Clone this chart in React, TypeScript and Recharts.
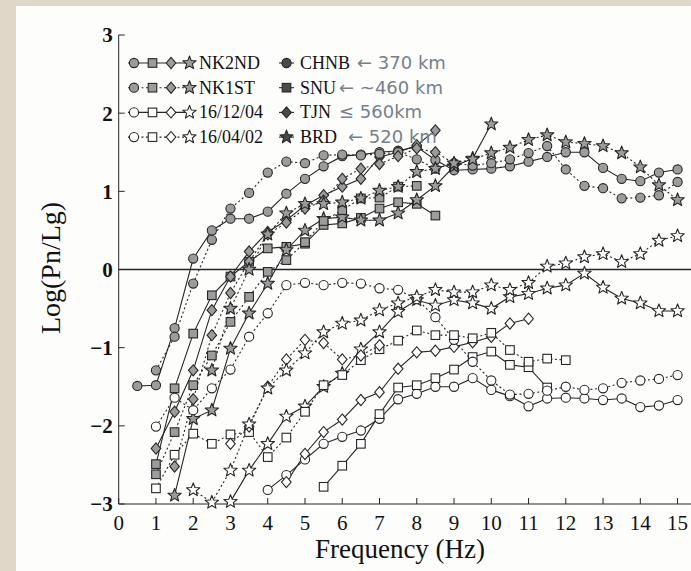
import React from "react";
import { ComposedChart, Line, XAxis, YAxis, ReferenceLine } from "recharts";

const N = null;

// sampling frequencies (Hz), shared by every series
const FREQ = [
  0.5, 1, 1.5, 2, 2.5, 3, 3.5, 4, 4.5, 5, 5.5, 6, 6.5, 7, 7.5, 8, 8.5, 9, 9.5,
  10, 10.5, 11, 11.5, 12, 12.5, 13, 13.5, 14, 14.5, 15,
];

// NK2ND (solid, filled markers)
const nk2ndChnb = [-1.49, -1.48, -0.75, 0.14, 0.5, 0.65, 0.65, 0.74, 0.97, 1.16, 1.32, 1.45, 1.47, 1.5, 1.52, 1.57, 1.4, 1.27, 1.28, 1.29, 1.32, 1.38, 1.44, 1.5, 1.5, 1.3, 1.16, 1.13, 1.24, 1.28];
const nk2ndSnu = [N, -2.49, -1.52, -0.82, -0.33, -0.09, 0.1, 0.27, 0.29, 0.33, 0.57, 0.59, 0.66, 0.78, 0.86, 0.84, 0.69, N, N, N, N, N, N, N, N, N, N, N, N, N];
const nk2ndTjn = [N, -2.29, -1.82, -1.29, -0.52, -0.09, 0.23, 0.48, 0.63, 0.82, 0.95, 1.06, 1.16, 1.44, 1.5, 1.59, 1.78, N, N, N, N, N, N, N, N, N, N, N, N, N];
const nk2ndBrd = [N, N, -2.89, -1.91, -1.8, -1.01, -0.56, -0.18, 0.25, 0.5, 0.65, 0.67, 0.63, 0.63, 0.72, 0.89, 1.07, 1.32, 1.42, 1.86, N, N, N, N, N, N, N, N, N, N];

// NK1ST (dotted, filled markers)
const nk1stChnb = [N, -1.29, -0.86, -0.18, 0.38, 0.78, 0.98, 1.24, 1.38, 1.36, 1.46, 1.47, 1.46, 1.48, 1.5, 1.41, 1.29, 1.36, 1.33, 1.36, 1.41, 1.49, 1.58, 1.28, 1.07, 1.04, 0.91, 0.92, 0.95, 1.12];
const nk1stSnu = [N, -2.62, -2.08, -1.48, -1.1, -0.67, -0.35, -0.03, 0.12, 0.35, 0.62, 0.76, 0.91, 0.92, 1.06, 1.07, N, N, N, N, N, N, N, N, N, N, N, N, N, N];
const nk1stTjn = [N, N, -2.52, -1.66, -0.84, -0.3, 0.1, 0.45, 0.6, 0.78, 0.88, 1.16, 1.29, 1.35, 1.45, 1.55, 1.5, 1.36, N, N, N, N, N, N, N, N, N, N, N, N];
const nk1stBrd = [N, N, N, N, -1.29, -0.5, 0.0, 0.45, 0.72, 0.84, 0.84, 0.86, 0.91, 1.01, 1.06, 1.25, 1.29, 1.36, 1.41, 1.49, 1.56, 1.66, 1.72, 1.63, 1.61, 1.58, 1.49, 1.31, 1.08, 0.89];

// 16/12/04 (solid, open markers)
const d1204Chnb = [N, N, N, N, N, N, N, -2.82, -2.63, -2.43, -2.23, -2.14, -2.06, -1.91, -1.66, -1.59, -1.5, -1.5, -1.39, -1.54, -1.62, -1.75, -1.65, -1.64, -1.65, -1.67, -1.65, -1.76, -1.74, -1.67];
const d1204Snu = [N, N, N, N, N, N, N, N, N, N, -2.78, -2.51, -2.23, -1.85, -1.51, -1.48, -1.39, -1.28, -1.12, -1.05, -1.22, -1.25, -1.51, N, N, N, N, N, N, N];
const d1204Tjn = [N, N, N, N, N, N, N, N, -2.72, -2.36, -2.08, -1.92, -1.67, -1.57, -1.27, -1.06, -1.04, -0.99, -0.93, -0.86, -0.69, -0.63, N, N, N, N, N, N, N, N];
const d1204Brd = [N, N, N, N, N, -2.97, -2.57, -2.23, -1.88, -1.75, -1.5, -1.33, -1.02, -0.8, -0.54, -0.39, -0.46, -0.39, -0.43, -0.5, -0.35, -0.31, -0.24, -0.2, -0.05, -0.23, -0.37, -0.43, -0.53, -0.53];

// 16/04/02 (dotted, open markers)
const d0402Chnb = [N, -2.01, -1.64, -1.8, -1.52, -1.28, -0.86, -0.56, -0.2, -0.17, -0.2, -0.17, -0.18, -0.24, -0.26, -0.38, -0.61, -0.9, -1.18, -1.42, -1.6, -1.59, -1.55, -1.5, -1.54, -1.52, -1.45, -1.42, -1.4, -1.35];
const d0402Snu = [N, -2.8, -2.37, -2.1, -2.23, -2.11, -2.08, -2.4, -2.15, -1.82, -1.48, -1.35, -1.16, -1.02, -0.91, -0.78, -0.84, -0.84, -0.88, -0.81, -1.03, -1.18, -1.14, -1.16, N, N, N, N, N, N];
const d0402Tjn = [N, N, N, N, N, -2.23, -2.01, -1.5, -1.15, -0.9, -0.94, -1.15, -1.1, -0.97, N, N, N, N, N, N, N, N, N, N, N, N, N, N, N, N];
const d0402Brd = [N, N, N, -2.82, -2.98, -2.57, -1.98, -1.52, -1.29, -1.07, -0.8, -0.69, -0.65, -0.52, -0.43, -0.35, -0.26, -0.29, -0.29, -0.2, -0.26, -0.17, 0.04, 0.08, 0.16, 0.2, 0.1, 0.2, 0.37, 0.43];

const X_TICKS = [0, 1, 2, 3, 4, 5, 6, 7, 8, 9, 10, 11, 12, 13, 14, 15];
const Y_TICKS = [-3, -2, -1, 0, 1, 2, 3];

const EVENTS = ["NK2ND", "NK1ST", "16/12/04", "16/04/02"];
const STATIONS = ["CHNB", "SNU", "TJN", "BRD"];
const NOTES = ["\u2190 370 km", "\u2190 ~460 km", "\u2264 560km", "\u2190 520 km"];

type Shape = "circle" | "square" | "diamond" | "star";
const SHAPES: Shape[] = ["circle", "square", "diamond", "star"];

const INK = "#262626";
const GRAY = "#9c9c9c";
const SERIF = "Liberation Serif, DejaVu Serif, Times, serif";

const SERIES = [
  { id: "nk2nd-chnb", vals: nk2ndChnb, shape: "circle", filled: true, dotted: false },
  { id: "nk2nd-snu", vals: nk2ndSnu, shape: "square", filled: true, dotted: false },
  { id: "nk2nd-tjn", vals: nk2ndTjn, shape: "diamond", filled: true, dotted: false },
  { id: "nk2nd-brd", vals: nk2ndBrd, shape: "star", filled: true, dotted: false },
  { id: "nk1st-chnb", vals: nk1stChnb, shape: "circle", filled: true, dotted: true },
  { id: "nk1st-snu", vals: nk1stSnu, shape: "square", filled: true, dotted: true },
  { id: "nk1st-tjn", vals: nk1stTjn, shape: "diamond", filled: true, dotted: true },
  { id: "nk1st-brd", vals: nk1stBrd, shape: "star", filled: true, dotted: true },
  { id: "d1204-chnb", vals: d1204Chnb, shape: "circle", filled: false, dotted: false },
  { id: "d1204-snu", vals: d1204Snu, shape: "square", filled: false, dotted: false },
  { id: "d1204-tjn", vals: d1204Tjn, shape: "diamond", filled: false, dotted: false },
  { id: "d1204-brd", vals: d1204Brd, shape: "star", filled: false, dotted: false },
  { id: "d0402-chnb", vals: d0402Chnb, shape: "circle", filled: false, dotted: true },
  { id: "d0402-snu", vals: d0402Snu, shape: "square", filled: false, dotted: true },
  { id: "d0402-tjn", vals: d0402Tjn, shape: "diamond", filled: false, dotted: true },
  { id: "d0402-brd", vals: d0402Brd, shape: "star", filled: false, dotted: true },
] as { id: string; vals: (number | null)[]; shape: Shape; filled: boolean; dotted: boolean }[];

function starPoints(cx: number, cy: number, ro: number, ri: number) {
  const pts: string[] = [];
  for (let k = 0; k < 10; k++) {
    const r = k % 2 === 0 ? ro : ri;
    const a = -Math.PI / 2 + (k * Math.PI) / 5;
    pts.push(`${cx + r * Math.cos(a)},${cy + r * Math.sin(a)}`);
  }
  return pts.join(" ");
}

function Marker({ shape, cx, cy, fill }: { shape: Shape; cx: number; cy: number; fill: string }) {
  const common = { fill, stroke: INK, strokeWidth: 1.1 };
  if (shape === "circle") return <circle cx={cx} cy={cy} r={4.6} {...common} />;
  if (shape === "square")
    return <rect x={cx - 4.3} y={cy - 4.3} width={8.6} height={8.6} {...common} />;
  if (shape === "diamond")
    return (
      <polygon
        points={`${cx},${cy - 5.6} ${cx + 4.8},${cy} ${cx},${cy + 5.6} ${cx - 4.8},${cy}`}
        {...common}
      />
    );
  return <polygon points={starPoints(cx, cy, 7, 3)} {...common} strokeLinejoin="round" />;
}

const makeDot = (shape: Shape, filled: boolean) => (p: any) => {
  const key = `d-${p.index}`;
  if (p.cx == null || p.cy == null || p.value == null || Number.isNaN(p.cy)) return <g key={key} />;
  return (
    <g key={key}>
      <Marker shape={shape} cx={p.cx} cy={p.cy} fill={filled ? GRAY : "#ffffff"} />
    </g>
  );
};

const fmtY = (v: number) => (v < 0 ? `\u2212${-v}` : `${v}`);

function LegendOverlay() {
  return (
    <svg width={691} height={571} style={{ position: "absolute", left: 0, top: 0, pointerEvents: "none" }}>
      {EVENTS.map((ev, i) => {
        const y = 63 + i * 24.7;
        const filled = i < 2;
        const dash = i % 2 === 1 ? "2 2.5" : undefined;
        const xs = [134, 152.5, 171, 189.5];
        return (
          <g key={ev}>
            <line x1={128} x2={192} y1={y} y2={y} stroke={INK} strokeWidth={1.1} strokeDasharray={dash} />
            {SHAPES.map((s, k) => (
              <Marker key={s} shape={s} cx={xs[k]} cy={y} fill={filled ? GRAY : "#fff"} />
            ))}
            <text x={199} y={y + 6} style={{ fontFamily: SERIF, fontSize: 18 }} fill="#111">
              {ev}
            </text>
            <line x1={279} x2={294} y1={y} y2={y} stroke={INK} strokeWidth={1.1} />
            <Marker shape={SHAPES[i]} cx={286.5} cy={y} fill="#4a4a4a" />
            <text x={300} y={y + 6} style={{ fontFamily: SERIF, fontSize: 18 }} fill="#111">
              {STATIONS[i]}
            </text>
            <text
              x={[357, 339, 339, 348][i]}
              y={y + 6}
              style={{ fontFamily: "DejaVu Sans, sans-serif", fontSize: 18 }}
              fill="#76808a"
            >
              {NOTES[i]}
            </text>
          </g>
        );
      })}
      <text x={400} y={558} textAnchor="middle" style={{ fontFamily: SERIF, fontSize: 27 }} fill="#111">
        Frequency (Hz)
      </text>
      <text
        x={60}
        y={268}
        textAnchor="middle"
        transform="rotate(-90 60 268)"
        style={{ fontFamily: SERIF, fontSize: 28 }}
        fill="#111"
      >
        Log(Pn/Lg)
      </text>
    </svg>
  );
}

export default function App() {
  return (
    <div
      style={{
        position: "fixed",
        left: 0,
        top: 0,
        width: 691,
        height: 571,
        overflow: "hidden",
        background: "#e1d7c8",
      }}
    >
      <div
        style={{ position: "absolute", left: 16, top: 6, width: 675, height: 565, background: "#fdfdfc" }}
      />
      <div style={{ position: "absolute", left: 0, top: 0 }}>
        <ComposedChart width={710} height={571} margin={{ top: 35, right: 13.8, bottom: 27, left: 58.7 }}>
          <XAxis
            xAxisId="b"
            type="number"
            dataKey="f"
            domain={[0, 15.5]}
            ticks={X_TICKS}
            interval={0}
            height={40}
            tickSize={-6}
            tickMargin={17}
            stroke={INK}
            tick={{ fill: "#111", style: { fontFamily: SERIF, fontSize: 21 } }}
          />
          <XAxis
            xAxisId="t"
            orientation="top"
            type="number"
            dataKey="f"
            domain={[0, 15.5]}
            ticks={X_TICKS}
            interval={0}
            height={0}
            tickSize={-6}
            tick={false}
            stroke={INK}
          />
          <YAxis
            type="number"
            domain={[-3, 3]}
            ticks={Y_TICKS}
            interval={0}
            width={60}
            tickSize={-6}
            tickMargin={12}
            stroke={INK}
            tickFormatter={fmtY}
            tick={{ fill: "#111", style: { fontFamily: SERIF, fontSize: 21, fontWeight: 700 } }}
          />
          <ReferenceLine xAxisId="b" y={0} stroke={INK} strokeWidth={1.3} ifOverflow="extendDomain" />
          {SERIES.map((s) => (
            <Line
              key={s.id}
              xAxisId="b"
              data={FREQ.map((f, i) => ({ f, v: s.vals[i] }))}
              dataKey="v"
              type="linear"
              stroke={INK}
              strokeWidth={1.1}
              strokeDasharray={s.dotted ? "2 2.5" : undefined}
              dot={makeDot(s.shape, s.filled)}
              activeDot={false}
              isAnimationActive={false}
              legendType="none"
            />
          ))}
        </ComposedChart>
      </div>
      <LegendOverlay />
    </div>
  );
}
